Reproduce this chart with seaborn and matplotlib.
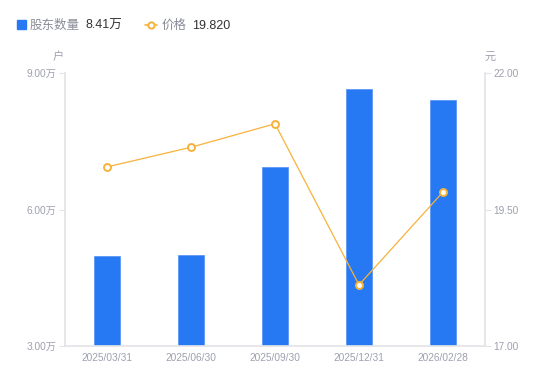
import matplotlib
matplotlib.use("Agg")
import matplotlib.pyplot as plt
import seaborn as sns
import pandas as pd

dates = ["2025/03/31", "2025/06/30", "2025/09/30", "2025/12/31", "2026/02/28"]
holders = [4.98, 5.00, 6.93, 8.65, 8.41]   # 万户
price = [20.28, 20.64, 21.07, 18.12, 19.82]  # 元
left_ticks = [3.0, 6.0, 9.0]
right_ticks = [17.0, 19.5, 22.0]

sns.set_theme(style="white")
plt.rcParams['font.family'] = ['Liberation Sans', 'Noto Sans CJK SC', 'DejaVu Sans']

BLUE = "#2679F2"
ORANGE = "#F7B23B"
TICK = "#9EA0AE"
SPINE = "#E3E4E8"

df = pd.DataFrame({"date": dates, "holders": holders, "price": price})

fig = plt.figure(figsize=(5.5, 3.81), dpi=100)
ax = fig.add_axes([65/550, 35/381, 420/550, 273/381])
sns.barplot(data=df, x="date", y="holders", color=BLUE, width=0.3, ax=ax,
            saturation=1, edgecolor="#4F90F5", linewidth=0.5)
ax.set_xlim(-0.5, 4.5)
ax.set_ylim(3, 9)
ax.set_yticks(left_ticks)
ax.set_yticklabels([f"{v:.2f}万" for v in left_ticks])
ax.set_xlabel("")
ax.set_ylabel("")

ax2 = ax.twinx()
sns.lineplot(data=df, x="date", y="price", color=ORANGE, linewidth=0.9, ax=ax2,
             marker="o", markersize=5, markerfacecolor="white",
             markeredgecolor=ORANGE, markeredgewidth=1.4)
ax2.set_ylim(17, 22)
ax2.set_yticks(right_ticks)
ax2.set_yticklabels([f"{v:.2f}" for v in right_ticks])
ax2.set_xlabel("")
ax2.set_ylabel("")
ax2.set_xlim(-0.5, 4.5)

for a in (ax, ax2):
    for s in a.spines.values():
        s.set_visible(False)
    a.grid(False)

ax.spines["left"].set_visible(True)
ax.spines["left"].set_color(SPINE)
ax.spines["bottom"].set_visible(True)
ax.spines["bottom"].set_color(SPINE)
ax2.spines["right"].set_visible(True)
ax2.spines["right"].set_color(SPINE)

ax.tick_params(axis="y", colors=SPINE, labelcolor=TICK, labelsize=7.3, length=4, width=0.8, pad=2, left=True)
ax.tick_params(axis="x", labelcolor=TICK, labelsize=7.3, length=0, pad=5)
ax2.tick_params(axis="y", colors=SPINE, labelcolor=TICK, labelsize=7.3, length=4, width=0.8, pad=2, right=True)

fig.text(58/550, 1 - 57/381, "户", color=TICK, fontsize=8, ha="center", va="center")
fig.text(490/550, 1 - 57/381, "元", color=TICK, fontsize=8, ha="center", va="center")

# legend
y_leg = 1 - 24.5/381
y_txt = 1 - 26/381
fig.patches.append(plt.Rectangle((17/550, 1 - 29/381), 9/550, 9/381, transform=fig.transFigure,
                                 color=BLUE, figure=fig))
fig.text(30/550, y_txt, "股东数量", color="#8A8D99", fontsize=9, va="center")
fig.text(85/550, y_txt, "8.41万", color="#333333", fontsize=9, va="center")
fig.lines.append(plt.Line2D([145/550, 157/550], [y_leg, y_leg], transform=fig.transFigure,
                            color=ORANGE, linewidth=1.2, figure=fig))
fig.lines.append(plt.Line2D([151/550], [y_leg], transform=fig.transFigure, color=ORANGE,
                            marker="o", markersize=4.5, markerfacecolor="white",
                            markeredgecolor=ORANGE, markeredgewidth=1.4, linestyle="none", figure=fig))
fig.text(162/550, y_txt, "价格", color="#8A8D99", fontsize=9, va="center")
fig.text(192/550, y_txt, "19.820", color="#333333", fontsize=9, va="center")

fig.savefig("out.png", dpi=100)
